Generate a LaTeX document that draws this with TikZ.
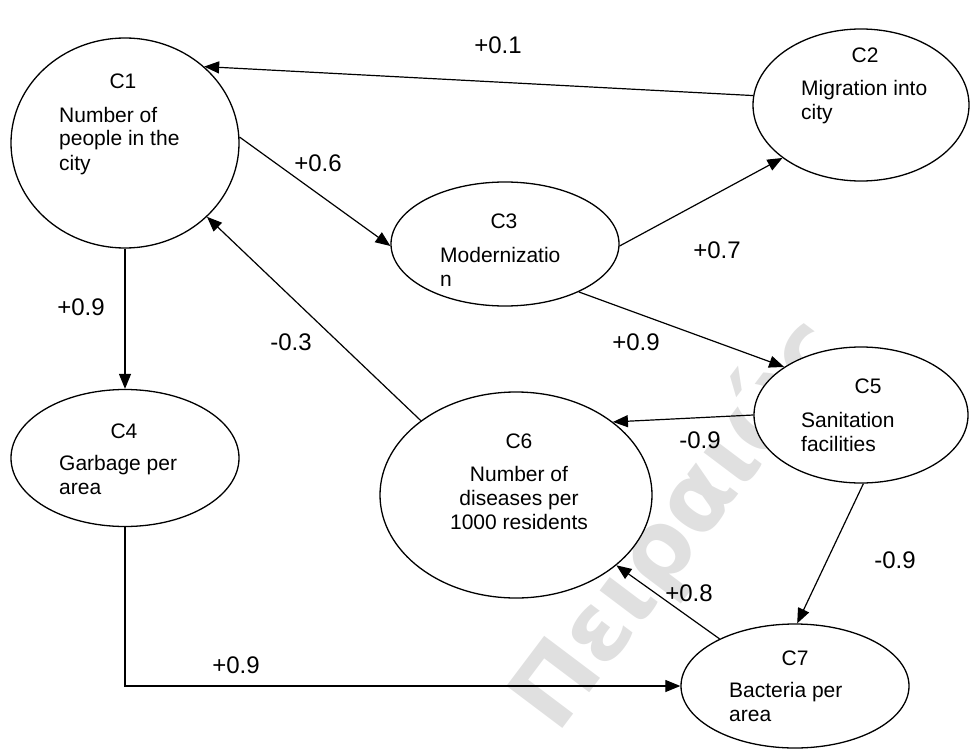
\documentclass[tikz,border=0pt]{standalone}
\usepackage{fontspec}
\setmainfont{Liberation Sans}
\newfontfamily\markfont{DejaVu Sans}
\usetikzlibrary{shapes.geometric,arrows.meta}

% left-aligned and centred multi-line labels, baseline on the first line
\newcommand\leftlines[1]{\begin{tabular}[t]{@{}l@{}}#1\end{tabular}}
\newcommand\midlines[1]{\begin{tabular}[t]{@{}c@{}}#1\end{tabular}}

\begin{document}
\begin{tikzpicture}[x=1pt,y=-1pt,
  concept/.style={ellipse,draw,line width=1.3pt,fill=white,inner sep=0pt},
  link/.style={-{Triangle[length=15pt,width=12pt]},line width=1.2pt},
  weight/.style={font=\fontsize{24}{28}\selectfont,inner sep=0pt},
  ctitle/.style={font=\fontsize{21}{24}\selectfont,inner sep=0pt,anchor=base},
  cbody/.style={font=\fontsize{21}{24}\selectfont,inner sep=0pt,anchor=base west},
  cbodymid/.style={font=\fontsize{21}{24}\selectfont,inner sep=0pt,anchor=base}]

\useasboundingbox (0,0) rectangle (971,749);

% faint watermark behind the diagram
\node[text=black!12,font=\markfont\bfseries\fontsize{96}{96}\selectfont,
      rotate=53,inner sep=0pt] (mark) at (680,525) {Πειραιώς};

% concepts
\node[concept,minimum width=228pt,minimum height=210pt] (c1) at (125,143) {};
\node[concept,minimum width=216pt,minimum height=152pt] (c2) at (861,105) {};
\node[concept,minimum width=228pt,minimum height=124pt] (c3) at (505,244) {};
\node[concept,minimum width=228pt,minimum height=137pt] (c4) at (125,458) {};
\node[concept,minimum width=214pt,minimum height=136pt] (c5) at (861,415) {};
\node[concept,minimum width=272pt,minimum height=206pt] (c6) at (516,495) {};
\node[concept,minimum width=228pt,minimum height=124pt] (c7) at (795,686) {};

% concept texts
\node[ctitle] (t1) at (123,89) {C1};
\node[cbody]  (b1) at (59,122) {\leftlines{Number of\\people in the\\city}};
\node[ctitle] (t2) at (865,63) {C2};
\node[cbody]  (b2) at (801,96) {\leftlines{Migration into\\city}};
\node[ctitle] (t3) at (504,228) {C3};
\node[cbody]  (b3) at (440,262) {\leftlines{Modernizatio\\n}};
\node[ctitle] (t4) at (124,438) {C4};
\node[cbody]  (b4) at (59,470) {\leftlines{Garbage per\\area}};
\node[ctitle] (t5) at (868,393) {C5};
\node[cbody]  (b5) at (801,427) {\leftlines{Sanitation\\facilities}};
\node[ctitle] (t6) at (519,448) {C6};
\node[cbodymid] (b6) at (519,481) {\midlines{Number of\\diseases per\\1000 residents}};
\node[ctitle] (t7) at (795,665) {C7};
\node[cbody]  (b7) at (729,697) {\leftlines{Bacteria per\\area}};

% causal links
\draw[link] (c2.175) -- (c1.44);
\draw[link] (c1.3) -- (c3.181);
\draw[link] (c3.359) -- (c2.214);
\draw[link] (c1.south) -- (c4.north);
\draw[link] (c6.142) -- (c1.318);
\draw[link] (c3.327) -- (c5.148);
\draw[link] (c5.180) -- (c6.37);
\draw[link] (c5.272) -- (c7.88);
\draw[link] (c7.148) -- (c6.325);
\draw[link] (c4.south) |- (c7.west);

% link weights
\node[weight] (w21) at (498,45)  {+0.1};
\node[weight] (w13) at (318,163) {+0.6};
\node[weight] (w32) at (717,250) {+0.7};
\node[weight] (w14) at (81,307)  {+0.9};
\node[weight] (w61) at (291,342) {-0.3};
\node[weight] (w35) at (636,342) {+0.9};
\node[weight] (w56) at (700,440) {-0.9};
\node[weight] (w57) at (895,560) {-0.9};
\node[weight] (w76) at (689,593) {+0.8};
\node[weight] (w47) at (236,665) {+0.9};
\end{tikzpicture}
\end{document}
